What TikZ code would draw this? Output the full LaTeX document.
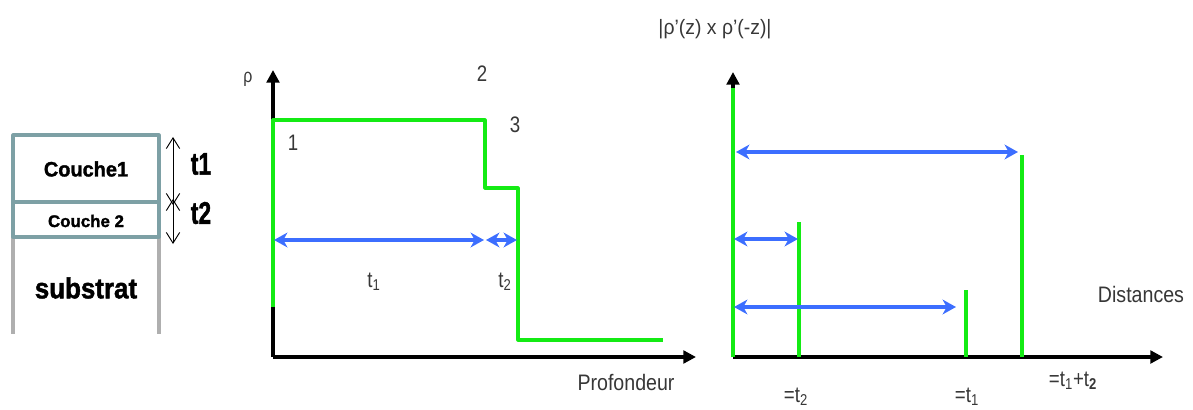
\documentclass[tikz,border=0pt]{standalone}
\usepackage{fontspec}
\setmainfont{Liberation Sans}
\newfontfamily\heavyfont[BoldFeatures={FakeBold=1.6}]{Liberation Sans}
\usetikzlibrary{arrows.meta}
\definecolor{lgreen}{RGB}{20,235,20}
\definecolor{lblue}{RGB}{60,110,255}
\definecolor{stackteal}{RGB}{125,160,165}
\definecolor{subgray}{RGB}{175,175,175}
\definecolor{txtgray}{RGB}{55,55,55}
\newcommand{\stz}[1]{\scalebox{1}[1.2]{#1}}
\begin{document}
\begin{tikzpicture}[x=0.75pt,y=-0.75pt,
  axisline/.style={line width=2.4pt,black,-{Triangle[length=9.5pt,width=9.5pt]}},
  curve/.style={line width=2.4pt,lgreen},
  bar/.style={line width=2.4pt,lgreen},
  dimarrow/.style={line width=2.6pt,lblue,{Stealth[length=10pt,width=11pt,inset=3pt]}-{Stealth[length=10pt,width=11pt,inset=3pt]}},
  thickarrow/.style={line width=0.7pt,black,{Straight Barb[length=8pt,width=10pt]}-{Straight Barb[length=8pt,width=10pt]}},
  lbl/.style={text=txtgray,font=\fontsize{14}{14}\selectfont,inner sep=0pt},
  boldlbl/.style={text=black,font=\heavyfont\bfseries,inner sep=0pt}]
\useasboundingbox (0,0) rectangle (1193,410);

% ---------- layer stack ----------
\coordinate (sTL) at (13,135);
\coordinate (sTR) at (159,135);
\coordinate (sM1L) at (13,202);
\coordinate (sM1R) at (159,202);
\coordinate (sM2L) at (13,237);
\coordinate (sM2R) at (159,237);
\coordinate (sBL) at (13,334);
\coordinate (sBR) at (159,334);
\draw[subgray,line width=2.3pt] (sM2L) -- (sBL) (sM2R) -- (sBR);
\draw[stackteal,line width=2.3pt,line join=round] (sM2L) -- (sTL) -- (sTR) -- (sM2R) -- cycle;
\draw[stackteal,line width=2.3pt] (sM1L) -- (sM1R);
\node[boldlbl] (c1) at (86,169) {\scalebox{1.15}[1.2]{\fontsize{13}{13}\selectfont Couche1}};
\node[boldlbl] (c2) at (86,221) {\scalebox{1.15}[1.15]{\fontsize{11}{11}\selectfont Couche 2}};
\node[boldlbl] (sub) at (86,288) {\scalebox{1.08}[1.2]{\fontsize{18}{18}\selectfont substrat}};

\coordinate (tA) at (173,137);
\coordinate (tB) at (173,205);
\coordinate (tC) at (173,199);
\coordinate (tD) at (173,244);
\draw[thickarrow] (tA) -- (tB);
\draw[thickarrow] (tC) -- (tD);
\node[boldlbl] (t1) at (201,164) {\scalebox{0.95}[1.3]{\fontsize{18}{18}\selectfont t1}};
\node[boldlbl] (t2) at (201,213) {\scalebox{0.95}[1.3]{\fontsize{18}{18}\selectfont t2}};

% ---------- depth profile ----------
\coordinate (o1) at (273,357);
\coordinate (y1) at (273,70);
\coordinate (x1) at (696,357);
\draw[axisline] (o1) -- (y1);
\draw[axisline] (o1) -- (x1);
\node[lbl] (rho) at (248,79) {\stz{\fontsize{12}{12}\selectfont ρ}};
\node[lbl] (prof) at (626,382) {\scalebox{1.05}[1.2]{Profondeur}};

\coordinate (p0) at (273,307);
\coordinate (p1) at (273,120);
\coordinate (p2) at (485,120);
\coordinate (p3) at (485,188);
\coordinate (p4) at (518,188);
\coordinate (p5) at (518,340);
\coordinate (p6) at (663,340);
\draw[curve,line join=round] (p0) -- (p1) -- (p2) -- (p3) -- (p4) -- (p5) -- (p6);

\node[lbl] (n1) at (293,143) {\stz{1}};
\node[lbl] (n2) at (482,74) {\stz{2}};
\node[lbl] (n3) at (515,125) {\stz{3}};

\coordinate (a1s) at (274,240);
\coordinate (a1e) at (484,240);
\coordinate (a2s) at (486,240);
\coordinate (a2e) at (517,240);
\draw[dimarrow] (a1s) -- (a1e);
\draw[dimarrow] (a2s) -- (a2e);
\node[lbl] (lt1) at (374,282) {\stz{t\textsubscript{1}}};
\node[lbl] (lt2) at (505,282) {\stz{t\textsubscript{2}}};

% ---------- autocorrelation ----------
\coordinate (o2) at (733,357);
\coordinate (y2) at (733,72);
\coordinate (x2) at (1163,357);
\draw[axisline] (o2) -- (x2);
\draw[axisline] (o2) -- (y2);
\coordinate (g0) at (733,357);
\coordinate (g1) at (733,88);
\draw[bar] (g0) -- (g1);
\node[lbl] (ytitle) at (715,29) {\scalebox{1.12}[1.2]{\fontsize{13}{13}\selectfont |ρ'(z) x ρ'(-z)|}};
\node[lbl] (dist) at (1141,294) {\scalebox{1.05}[1.2]{Distances}};

\coordinate (b1b) at (799,357);
\coordinate (b1t) at (799,222);
\coordinate (b2b) at (966,357);
\coordinate (b2t) at (966,290);
\coordinate (b3b) at (1022,357);
\coordinate (b3t) at (1022,155);
\draw[bar] (b1b) -- (b1t);
\draw[bar] (b2b) -- (b2t);
\draw[bar] (b3b) -- (b3t);

\coordinate (d1s) at (736,152);
\coordinate (d1e) at (1018,152);
\coordinate (d2s) at (734,239);
\coordinate (d2e) at (798,239);
\coordinate (d3s) at (734,307);
\coordinate (d3e) at (956,307);
\draw[dimarrow] (d1s) -- (d1e);
\draw[dimarrow] (d2s) -- (d2e);
\draw[dimarrow] (d3s) -- (d3e);

\node[lbl] (e2) at (796,397) {\stz{=t\textsubscript{2}}};
\node[lbl] (e1) at (967,397) {\stz{=t\textsubscript{1}}};
\node[lbl] (e12) at (1073,381) {\stz{=t\textsubscript{1}+t\textsubscript{\textbf{2}}}};
\end{tikzpicture}
\end{document}
